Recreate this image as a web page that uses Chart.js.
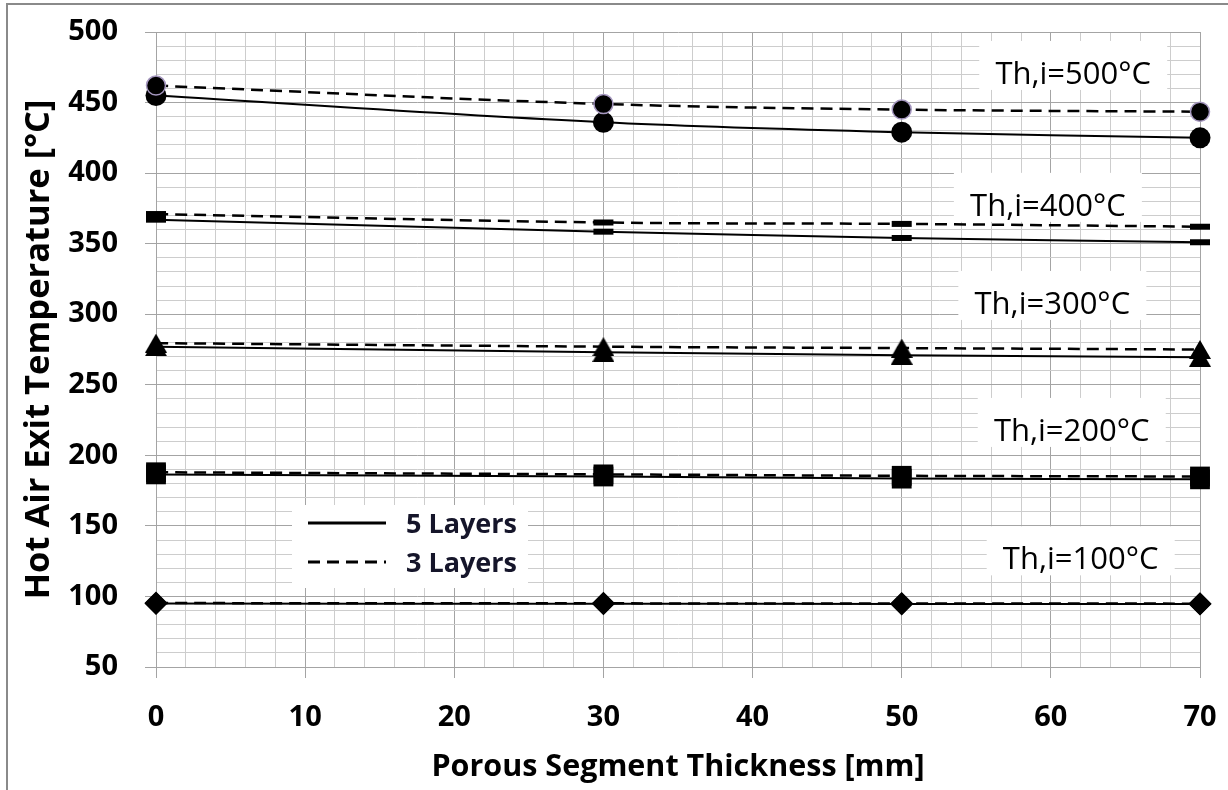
<!DOCTYPE html>
<html>
<head>
<meta charset="utf-8">
<script src="https://cdn.jsdelivr.net/npm/chart.js@4.4.1/dist/chart.umd.min.js"></script>
<style>
  html, body { margin: 0; padding: 0; background: #ffffff; }
  #wrap { width: 1228px; height: 790px; position: relative; }
</style>
</head>
<body>
<div id="wrap"><canvas id="c" width="1228" height="790"></canvas></div>
<script>
// Porous segment thickness [mm]
const thickness = [0, 30, 50, 70];

// Hot air exit temperature [°C] for each hot inlet temperature, 5 and 3 layers
const t500_5 = [455, 436, 429, 425];
const t500_3 = [462, 449, 445, 443.5];
const t400_5 = [367, 358.5, 354, 351];
const t400_3 = [371, 365, 364, 362];
const t300_5 = [277, 273, 271, 269.5];
const t300_3 = [279.5, 277, 276, 275];
const t200_5 = [186.5, 185, 183.5, 183];
const t200_3 = [188, 186.5, 185.5, 185];
const t100_5 = [95, 94.8, 94.7, 94.6];
const t100_3 = [95.3, 95.1, 95, 94.9];

// Axis tick labels
const xTickLabels = [0, 10, 20, 30, 40, 50, 60, 70];
const yTickLabels = [50, 100, 150, 200, 250, 300, 350, 400, 450, 500];

// Legend entries and inlet temperature annotations
const seriesNames = ['5 Layers', '3 Layers'];
const inletLabels = ['Th,i=500°C', 'Th,i=400°C', 'Th,i=300°C', 'Th,i=200°C', 'Th,i=100°C'];
const inletLabelX = [61.5, 59.8, 60.1, 61.4, 62.0];
const inletLabelY = [471, 377.5, 308, 218, 127];

const FONT = '"Open Sans", "Noto Sans", sans-serif';
const DASH = [12, 7];

// Triangle marker whose bounding box is centred on the point
function triangleMarker(w, h) {
  const cv = document.createElement('canvas');
  cv.width = w; cv.height = h;
  const g = cv.getContext('2d');
  g.fillStyle = '#000';
  g.beginPath();
  g.moveTo(w / 2, 0);
  g.lineTo(w, h);
  g.lineTo(0, h);
  g.closePath();
  g.fill();
  return cv;
}

function series(values, layers, marker) {
  const dashed = layers === 3;
  return {
    label: layers + ' Layers',
    data: thickness.map((x, i) => ({ x: x, y: values[i] })),
    borderColor: '#000',
    borderWidth: dashed ? 2.5 : 2,
    borderDash: dashed ? DASH : [],
    tension: 0.35,
    clip: false,
    order: dashed ? 0 : 1,
    pointHoverRadius: 0,
    ...marker
  };
}

const circle5 = { pointStyle: 'circle', pointRadius: 10.5, pointBackgroundColor: '#000', pointBorderColor: '#000', pointBorderWidth: 0 };
const circle3 = { pointStyle: 'circle', pointRadius: 9.5, pointBackgroundColor: '#000', pointBorderColor: '#a597bf', pointBorderWidth: 1.5 };
const dash = { pointStyle: 'line', pointRadius: 10, pointBorderColor: '#000', pointBorderWidth: 6 };
const tri = () => ({ pointStyle: triangleMarker(22, 19), pointRadius: 10, pointBackgroundColor: '#000', pointBorderColor: '#000' });
const square = { pointStyle: 'rect', pointRadius: 14, pointBackgroundColor: '#000', pointBorderColor: '#000', pointBorderWidth: 0 };
const diamond = { pointStyle: 'rectRot', pointRadius: 11.5, pointBackgroundColor: '#000', pointBorderColor: '#000', pointBorderWidth: 0 };

// Outer frame (left and top edge)
const framePlugin = {
  id: 'frame',
  beforeDraw(chart) {
    const ctx = chart.ctx;
    ctx.save();
    ctx.fillStyle = '#ffffff';
    ctx.fillRect(0, 0, chart.width, chart.height);
    ctx.strokeStyle = '#8a8a8a';
    ctx.lineWidth = 2;
    ctx.beginPath();
    ctx.moveTo(7, chart.height);
    ctx.lineTo(7, 4);
    ctx.lineTo(chart.width, 4);
    ctx.stroke();
    ctx.restore();
  }
};

// Inlet temperature text boxes and the line-style legend
const annotationPlugin = {
  id: 'annotations',
  beforeDatasetsDraw(chart) {
    const ctx = chart.ctx;
    const xs = chart.scales.x, ys = chart.scales.y;
    ctx.save();
    ctx.font = '31px ' + FONT;
    ctx.textAlign = 'center';
    ctx.textBaseline = 'alphabetic';
    inletLabels.forEach((txt, i) => {
      const cx = xs.getPixelForValue(inletLabelX[i]);
      const cy = ys.getPixelForValue(inletLabelY[i]);
      ctx.fillStyle = '#ffffff';
      ctx.fillRect(cx - 94, cy - 32, 188, 49);
      ctx.fillStyle = '#000000';
      ctx.fillText(txt, cx, cy + 11);
    });

    // legend box
    const lx = 292, ly = 505;
    ctx.fillStyle = '#ffffff';
    ctx.fillRect(lx, ly, 236, 83);
    ctx.strokeStyle = '#000';
    ctx.lineWidth = 3;
    ctx.lineCap = 'butt';
    [[], DASH].forEach((d, i) => {
      const y = ly + 18 + i * 39;
      ctx.setLineDash(d);
      ctx.beginPath();
      ctx.moveTo(lx + 16, y);
      ctx.lineTo(lx + 94, y);
      ctx.stroke();
    });
    ctx.setLineDash([]);
    ctx.font = 'bold 27px ' + FONT;
    ctx.textAlign = 'left';
    ctx.fillStyle = '#15152a';
    seriesNames.forEach((n, i) => {
      ctx.fillText(n, lx + 114, ly + 18 + i * 39 + 10);
    });
    ctx.restore();
  }
};

const gridColor = (step) => (c) => (c.tick && c.tick.value % step === 0) ? '#a4a4a4' : '#cdcdcd';
const tickColor = (step) => (c) => (c.tick && c.tick.value % step === 0) ? '#a4a4a4' : 'rgba(0,0,0,0)';

function draw() {
  new Chart(document.getElementById('c'), {
    type: 'line',
    data: {
      datasets: [
        series(t500_5, 5, circle5), series(t500_3, 3, circle3),
        series(t400_5, 5, dash), series(t400_3, 3, dash),
        series(t300_5, 5, tri()), series(t300_3, 3, tri()),
        series(t200_5, 5, square), series(t200_3, 3, square),
        series(t100_5, 5, diamond), series(t100_3, 3, diamond)
      ]
    },
    options: {
      responsive: false,
      animation: false,
      events: [],
      layout: { padding: { left: 0, right: 28, top: 32, bottom: 0 } },
      plugins: { legend: { display: false }, tooltip: { enabled: false } },
      scales: {
        x: {
          type: 'linear',
          min: 0, max: 70,
          afterFit(s) { s.height = 123; s.paddingLeft = 0; s.paddingRight = 0; },
          ticks: {
            stepSize: 2, maxTicksLimit: 100, autoSkip: false, maxRotation: 0,
            padding: 22, color: '#000',
            font: { family: FONT, size: 29, weight: 'bold' },
            callback: (v) => xTickLabels.includes(v) ? String(v) : ''
          },
          grid: { color: gridColor(10), tickColor: tickColor(10), tickLength: 11, lineWidth: 1 },
          border: { display: true, color: '#a4a4a4' },
          title: {
            display: true, text: 'Porous Segment Thickness [mm]', color: '#000',
            font: { family: FONT, size: 30.5, weight: 'bold' },
            padding: { top: 0, bottom: 4 }
          }
        },
        y: {
          type: 'linear',
          min: 50, max: 500,
          afterFit(s) { s.width = 156; s.paddingTop = 0; s.paddingBottom = 0; },
          ticks: {
            stepSize: 10, maxTicksLimit: 100, autoSkip: false,
            padding: 27, color: '#000',
            font: { family: FONT, size: 29, weight: 'bold' },
            callback: (v) => yTickLabels.includes(v) ? String(v) : ''
          },
          grid: { color: gridColor(50), tickColor: tickColor(50), tickLength: 11, lineWidth: 1 },
          border: { display: true, color: '#a4a4a4' },
          title: {
            display: true, text: 'Hot Air Exit Temperature [°C]', color: '#000',
            font: { family: FONT, size: 34.5, weight: 'bold' },
            padding: { top: 18, bottom: 0 }
          }
        }
      }
    },
    plugins: [framePlugin, annotationPlugin]
  });
}

Promise.all([
  document.fonts.load('bold 29px "Open Sans"'),
  document.fonts.load('31px "Open Sans"')
]).then(draw, draw);
</script>
</body>
</html>
